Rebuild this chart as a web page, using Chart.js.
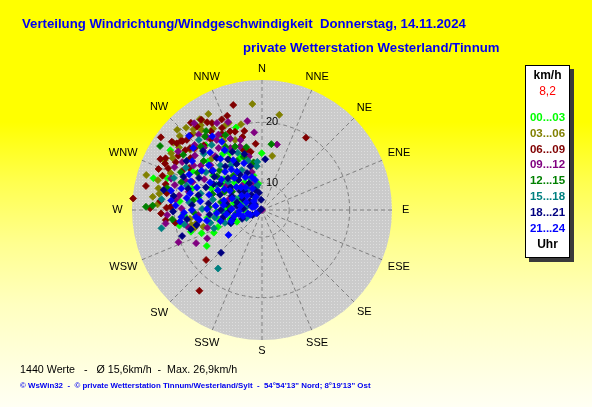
<!DOCTYPE html>
<html lang="de">
<head>
<meta charset="utf-8">
<title>Verteilung Windrichtung/Windgeschwindigkeit</title>
<script src="https://cdn.jsdelivr.net/npm/chart.js@4.4.1/dist/chart.umd.min.js"></script>
<style>
  html, body { margin: 0; padding: 0; }
  body {
    width: 592px; height: 407px; overflow: hidden; position: relative;
    background: linear-gradient(180deg, #ffff00 0%, #ffff00 30%, #ffff50 45%, #ffff90 60%, #ffffc0 75%, #fffff4 100%);
    font-family: "Liberation Sans", Arial, sans-serif;
  }
  #wrap { position: absolute; left: 0; top: 0; width: 592px; height: 407px; }
  .title { position: absolute; color: #0000f0; font-weight: bold; font-size: 13.2px; line-height: 16px; white-space: pre; }
  #t1 { left: 22px; top: 16px; }
  #t2 { left: 243px; top: 40px; }
  #legend {
    position: absolute; left: 525px; top: 65px; width: 43px; height: 190px;
    background: #fff; border: 1px solid #000; box-shadow: 4px 4px 0 #3a3a3a;
    text-align: center; font-weight: bold; font-size: 12px; padding-top: 1px; box-sizing: content-box;
  }
  #legend div { line-height: 16px; white-space: pre; }
  #legend .grp { line-height: 15.8px; font-size: 11.5px; }
  #legend .now { color: #ff0000; font-weight: normal; margin-bottom: 11px; }
  #f1 { position: absolute; left: 20px; top: 362px; font-size: 10.7px; line-height: 14px; color: #000; white-space: pre; }
  #f2 { position: absolute; left: 20px; top: 381px; font-size: 7.9px; line-height: 10px; color: #0000f0; font-weight: bold; white-space: pre; }
</style>
</head>
<body>
<div id="wrap"><canvas id="rose"></canvas></div>
<div class="title" id="t1">Verteilung Windrichtung/Windgeschwindigkeit  Donnerstag, 14.11.2024</div>
<div class="title" id="t2">private Wetterstation Westerland/Tinnum</div>
<div id="legend"></div>
<div id="f1"></div>
<div id="f2">© WsWin32  -  © private Wetterstation Tinnum/Westerland/Sylt  -  54°54'13" Nord; 8°19'13" Ost</div>
<script>
// radial axis: km/h at the centre and at the rim
const MIN_KMH = 5.5;
const MAX_KMH = 27;
const ringTicks = [10, 20];
const compass = ['N', 'NNE', 'NE', 'ENE', 'E', 'ESE', 'SE', 'SSE',
                 'S', 'SSW', 'SW', 'WSW', 'W', 'WNW', 'NW', 'NNW'];

const currentKmh = '8,2';
const summary = { count: 1440, mean: '15,6', max: '26,9' };

const hourGroups = ['00...03', '03...06', '06...09', '09...12', '12...15', '15...18', '18...21', '21...24'];
const groupColors = ['#00ff00', '#808000', '#800000', '#800080', '#008000', '#008080', '#000080', '#0000ff'];

// [direction in degrees, speed in km/h]
const h00_03 = [[342.5,19.8],[286.3,24.2],[303.1,23.6],[359.7,14.9],[259.3,19.4],[248.9,16.2],[236.9,16.4],[244.8,14.3],
  [330.8,19.7],[330.6,16.3],[325,16.8],[319,19.7],[312,17.5],[305,15.4],[299,18.7],[293,14.6],[287,17.6],[281,16.2],
  [276,19.2],[271,11.6],[266,18.4],[262,14.6],[258,12.9],[254,11.0],[249,13.3],[245,10.1],[253,17.8],[270,8.5],
  [284,10.3],[297,9.8],[315,11.9],[328,10.9],[338,14.9],[346,11.4],[352,9.9],[303,13.2],[309,13.6],[290,9.0],
  [267.9,13.0],[266.9,18.5],[288.5,22.0]];
const h03_06 = [[354.8,23.1],[10.3,21.5],[330.8,23.7],[325.6,23.7],[339.1,20.9],[10.7,14.6],[347.8,13.1],[341,9.4],
  [286.8,25.5],[276.9,23.7],[281.8,23.0],[273.1,22.8],[313.4,24.8],[317.3,24.0],[319.6,23.0],[324.2,22.8],[307.2,23.9],
  [346.2,20.1],[254.1,15.6],[258,17.4],[255.2,17.0],
  [326.3,23.4],[336.3,20.7],[300.1,22.6],[312,23.8],[318,22.5],[323,22.1],[329,21.2],[307,22.7],[302,23.2],[297,23.6],
  [292,21.8],[286,23.4],[279,22.7],[263,17.5],[259,16.5],[339,17.9],[343,16.0],[310,21.0],[331,18.6],[316,17.4]];
const h06_09 = [[344.7,23.5],[31.3,19.5],[339.7,22.1],[347.4,18.9],[354.5,16.5],[345.9,15.8],[275.1,26.9],[281.7,25.1],
  [270.9,24.0],[296.6,24.3],[305.7,26.1],[307.1,24.2],[298.2,23.6],[295.6,23.3],[310.4,23.1],[291.6,23.9],[271.4,21.3],
  [261.7,20.0],[228.2,17.9],[217.8,22.4],[257.2,12.2],
  [320.8,24.1],[330.1,22.1],[332.2,19.7],[307.9,21.6],[310.7,21.2],[337.8,19.5],[312.6,20.6],[342.7,15.9],[316,22.6],
  [322,23.0],[327,21.0],[334,20.6],[324,19.9],[318,19.9],[313,22.5],[303,22.0],[299,21.8],[294,22.5],[289,22.9],
  [285,22.0],[280,21.5],[300,19.4],[306,20.1],[311,22.9],[328,22.6],[336,21.9],[341,19.2],[345,18.0],[349,15.3],
  [272,20.6],[275,22.4],[268,22.2],[264,21.5],[308,23.4],[326,23.5],[296,20.2]];
const h09_12 = [[350.6,20.4],[354.3,18.4],[12.9,16.6],[346.3,14.6],[0,5.5],[322,23.7],[248.9,20.3],[243.3,17.7],
  [242.6,15.7],[265.5,16.1],
  [332.6,21.7],[338.9,21.1],[327.1,19.3],[340.8,16.6],[304.9,22.4],[320,21.8],[314,21.0],[309,19.8],[301,20.9],
  [296,21.6],[291,19.1],[286,20.5],[280,19.4],[271,18.8],[267,21.2],[325,18.0],[330,19.9],[336,18.4],[343,17.6],
  [319,17.3],[311,16.8],[306,18.0],[298,16.3],[292,17.9],[284,18.0],[277,19.9],[345,12.0],[338,10.2],[321,10.7],
  [305,12.6],[287,11.3],[262,21.6],[258,18.2],[252,15.0],[317,19.6],[323,20.6],[303,19.0],[289,21.4],[333,17.0]];
const h12_15 = [[8.1,16.5],[302.1,25.4],[271.6,24.7],[272.3,23.6],
  [324.7,21.5],[322.1,20.9],[316,20.1],[310,18.1],[305,21.4],[300,17.8],[295,20.3],[289,19.6],[283,21.6],[278,17.0],
  [273,14.3],[268,16.8],[264,20.4],[330,17.6],[334,19.3],[337,16.9],[341,14.8],[333,14.6],[327,15.4],[320,12.9],
  [313,15.1],[307,14.8],[302,11.3],[296,12.4],[288,14.1],[281,12.4],[275,10.9],[262,9.8],[346,16.2],[350,13.5]];
const h15_18 = [[349.4,9.7],[331,7.9],[353.1,12.8],[276.1,22.2],[259.7,22.4],[259.6,18.6],[216.9,17.6],[249.1,14.0],
  [354.4,13.5],
  [276,17.6],[282,13.8],[288,18.6],[293,10.2],[299,14.1],[304,16.7],[310,12.8],[314,18.9],[317,15.6],[322.3,19.1],
  [325,14.5],[329,17.0],[333,12.9],[337,15.8],[340,11.0],[344,14.0],[299,19.9],[290,21.0],[285,16.0],[271,15.4],
  [266,11.8],[261,13.4],[256,14.3],[251,12.0],[243,8.4],[280,8.2],[308,9.4],[326,9.6],[347,9.4],[318,21.1]];
const h18_21 = [[3.7,13.9],[315,5.7],[281.5,22.1],[251.9,19.4],[254.8,17.7],[223.8,15.3],[246.8,11.1],[342.5,15.2],
  [270,12.3],[274,8.6],[277,14.4],[280,11.5],[283,16.3],[287,9.8],[290,12.9],[292,15.5],[295,11.0],[297,17.2],
  [300,9.2],[302,13.7],[306,11.9],[308,16.0],[311,10.3],[313,13.2],[317,9.8],[320,14.9],[322,11.8],[325,8.6],
  [328,12.4],[331,14.2],[334,10.4],[338,12.1],[341,9.0],[345,13.0],[350,8.4],[355,7.2],[265,14.2],[260,12.0],
  [257,16.6],[263,18.0],[269,20.2],[253,10.6],[246,9.1],[242,7.3],[238,6.4],[290,7.4],[310,7.0],[279,20.3],
  [293,19.6],[303,20.4],[315,19.3],[286,18.2],[298,14.6],[305,15.1],[319,16.9],[326,15.6],[333,16.3],[274,17.1],
  [267,11.0],[279,9.7],[305,8.0]];
const h21_24 = [[233.4,12.4],[315.4,22.7],[329.5,18.6],
  [272,10.5],[275,13.2],[278,15.8],[281,9.1],[284,12.0],[286,14.6],[289,16.9],[291,10.8],[294,13.5],[296,8.4],
  [298,15.2],[301,11.7],[303,17.4],[305,9.6],[307,13.9],[309,15.9],[312,11.2],[314,8.9],[316,14.3],[319,12.5],
  [321,16.4],[324,10.1],[327,13.1],[330,15.0],[333,11.6],[336,9.4],[339,13.8],[343,11.2],[347,10.6],[262,19.2],
  [264,16.5],[266,13.0],[268,18.4],[263,11.4],[267,9.3],[270,17.1],[273,19.8],[276,20.6],[279,18.1],[282,20.9],
  [285,19.3],[259,14.8],[258,10.2],[255,12.6],[252,8.8],[248,7.6],[261,16.0],[240,6.6],[250,10.9],[256,7.9],
  [287,7.2],[300,6.8],[318,7.5],[335,7.9],[305,19.6],[312,20.8],[318,18.3],[326,20.2],[296,18.9],
  [283,17.7],[292,18.2],[299,12.6],[310,17.0],[317,10.6],[323,13.9],[328,17.2],[292,6.9],[277,11.9],[271,14.6],
  [265,18.9],[260,9.4]];

const groupData = [h00_03, h03_06, h06_09, h09_12, h12_15, h15_18, h18_21, h21_24];

// legend box + footer text
const legend = document.getElementById('legend');
legend.innerHTML = '<div>km/h</div><div class="now">' + currentKmh + '</div>' +
  hourGroups.map((g, i) => '<div class="grp" style="color:' + groupColors[i] + '">' + g + '</div>').join('') +
  '<div>Uhr</div>';
document.getElementById('f1').textContent =
  summary.count + ' Werte   -   Ø ' + summary.mean + 'km/h  -  Max. ' + summary.max + 'km/h';

function toXY(dir, kmh) {
  const a = dir * Math.PI / 180;
  const r = kmh - MIN_KMH;
  return { x: r * Math.sin(a), y: r * Math.cos(a) };
}

function diskPattern(ctx) {
  const c = document.createElement('canvas');
  c.width = 3; c.height = 3;
  const p = c.getContext('2d');
  p.fillStyle = '#cbcbcb';
  p.fillRect(0, 0, 3, 3);
  p.fillStyle = '#dedede';
  p.fillRect(1, 1, 1, 1);
  return ctx.createPattern(c, 'repeat');
}

const windRose = {
  id: 'windRose',
  beforeDatasetsDraw(chart) {
    const { ctx, scales: { x, y } } = chart;
    const cx = x.getPixelForValue(0);
    const cy = y.getPixelForValue(0);
    const rad = v => x.getPixelForValue(v - MIN_KMH) - cx;
    const R = rad(MAX_KMH);

    ctx.save();
    ctx.fillStyle = diskPattern(ctx);
    ctx.beginPath();
    ctx.arc(cx, cy, R, 0, 2 * Math.PI);
    ctx.fill();

    ctx.strokeStyle = '#808080';
    ctx.lineWidth = 1;
    ctx.setLineDash([4, 3]);
    ringTicks.forEach(v => {
      ctx.beginPath();
      ctx.arc(cx, cy, rad(v), 0, 2 * Math.PI);
      ctx.stroke();
    });
    compass.forEach((name, i) => {
      const a = i * 22.5 * Math.PI / 180;
      ctx.beginPath();
      ctx.moveTo(cx, cy);
      ctx.lineTo(cx + R * Math.sin(a), cy - R * Math.cos(a));
      ctx.stroke();
    });
    ctx.setLineDash([]);

    ctx.fillStyle = '#000';
    ctx.textBaseline = 'middle';
    ctx.font = '11px "Liberation Sans", Arial, sans-serif';
    ctx.textAlign = 'left';
    ringTicks.forEach(v => ctx.fillText(String(v), cx + 4, cy - rad(v)));

    ctx.textAlign = 'center';
    compass.forEach((name, i) => {
      const a = i * 22.5 * Math.PI / 180;
      const w = ctx.measureText(name).width;
      const r = R + 11 + 0.35 * w * Math.abs(Math.sin(a));
      ctx.fillText(name, cx + r * Math.sin(a), cy - r * Math.cos(a));
    });
    ctx.restore();
  }
};

const datasets = groupData.map((pts, i) => ({
  label: hourGroups[i],
  data: pts.map(([dir, kmh]) => toXY(dir, kmh)),
  pointStyle: 'rectRot',
  pointRadius: 3.5,
  pointHoverRadius: 3.5,
  borderWidth: 0.8,
  backgroundColor: groupColors[i],
  borderColor: groupColors[i],
  order: groupData.length - i,
  clip: false
}));

new Chart(document.getElementById('rose'), {
  type: 'scatter',
  data: { datasets },
  options: {
    responsive: true,
    maintainAspectRatio: false,
    animation: false,
    events: [],
    layout: { padding: { left: 132, top: 80, right: 200, bottom: 67 } },
    plugins: { legend: { display: false }, tooltip: { enabled: false } },
    scales: {
      x: { type: 'linear', display: false, min: -(MAX_KMH - MIN_KMH), max: MAX_KMH - MIN_KMH },
      y: { type: 'linear', display: false, min: -(MAX_KMH - MIN_KMH), max: MAX_KMH - MIN_KMH }
    }
  },
  plugins: [windRose]
});
</script>
</body>
</html>
